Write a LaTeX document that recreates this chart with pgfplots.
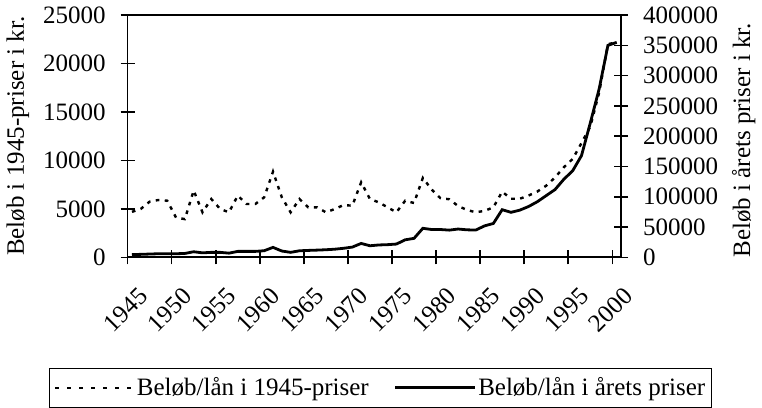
\documentclass[border=0pt]{standalone}
\usepackage{fontspec}
\setmainfont{Liberation Serif}
\usepackage{pgfplots}
\usepackage{pgfplotstable}
\pgfplotsset{compat=1.18}

% year, amount in 1945 prices (left axis), amount in current prices (right axis)
\pgfplotstableread{
year fast lob
1945 4700 4650
1946 5000 5000
1947 5750 5500
1948 5920 6000
1949 5850 6000
1950 4100 6000
1951 3950 6500
1952 6900 9300
1953 4650 7500
1954 6020 8300
1955 5000 8300
1956 4650 7000
1957 6370 9900
1958 5510 9900
1959 5510 9900
1960 6200 11000
1961 8850 16500
1962 6200 10500
1963 4650 8300
1964 6020 10900
1965 5165 11500
1966 5165 12000
1967 4650 12600
1968 4990 13500
1969 5400 15000
1970 5330 17000
1971 7750 23000
1972 6020 19200
1973 5680 20500
1974 5165 21000
1975 4650 22000
1976 5850 29000
1977 5610 31400
1978 8200 48000
1979 7000 46000
1980 6100 46000
1981 6000 45000
1982 5300 46800
1983 4900 45500
1984 4650 45100
1985 4800 52000
1986 5165 56000
1987 6780 78700
1988 6050 74400
1989 6050 78000
1990 6380 84000
1991 6800 92000
1992 7400 102000
1993 8250 112000
1994 9300 129000
1995 10160 143000
1996 11800 168000
1997 13500 222000
1998 17000 278000
1999 22000 350000
2000 22200 355000
}\data

\pgfplotsset{
  common/.style={
    scale only axis, width=246.9pt, height=121.2pt,
    xmin=1945, xmax=2001, ymin=0,
    tick align=center, major tick length=7pt,
    tick style={black, line width=0.8pt},
    axis line style={line width=0.9pt},
    minor tick num=0,
    scaled y ticks=false,
    font=\fontsize{12.5}{14}\selectfont,
    tick label style={font=\fontsize{12.5}{14}\selectfont},
    /pgf/number format/fixed,
    /pgf/number format/precision=0,
    /pgf/number format/assume math mode=true,
    /pgf/number format/1000 sep={},
    ylabel style={font=\fontsize{12.5}{14}\selectfont},
  },
}

\begin{document}
\begin{tikzpicture}
\begin{axis}[
  common,
  ymax=25000,
  xtick={1945,1950,...,2000},
  ytick={0,5000,...,25000},
  xtick pos=bottom, ytick pos=left,
  xticklabel style={rotate=45, anchor=north east, inner sep=1pt, yshift=-10pt, xshift=-3pt},
  yticklabel style={xshift=-4pt},
  ylabel={Beløb i 1945-priser i kr.},
  legend image code/.code={\draw[#1] (0pt,0pt) -- (40pt,0pt);},
  legend columns=2,
  legend cell align=left,
  legend style={at={(0.5,-0.455)}, anchor=north, xshift=3pt, draw=black, line width=0.6pt,
    font=\fontsize{12.5}{14}\selectfont, inner xsep=2.5pt, inner ysep=2.5pt,
    nodes={inner xsep=0.7pt},
    /tikz/every even column/.append style={column sep=12pt}},
]
\addplot[black, line width=1.2pt, dash pattern=on 1.8pt off 2.7pt,
  legend image code/.code={\draw[black, line width=1.2pt, dash pattern=on 1.6pt off 4.4pt] (0.5pt,0pt) -- (40pt,0pt);}]
  table[x expr=\thisrow{year}+0.5, y=fast] {\data};
\addlegendentry{Beløb/lån i 1945-priser}
\addlegendimage{black, line width=1.4pt}
\addlegendentry{Beløb/lån i årets priser\hspace{8pt}}
\end{axis}
\begin{axis}[
  common,
  ymax=400000,
  ytick={0,50000,...,400000},
  axis x line=none,
  axis y line*=right,
  yticklabel style={xshift=4pt},
  ylabel={Beløb i årets priser i kr.},
  ylabel style={xshift=-2pt},
]
\addplot[black, line width=1.4pt]
  table[x expr=\thisrow{year}+0.5, y=lob] {\data};
\end{axis}
\end{tikzpicture}
\end{document}
